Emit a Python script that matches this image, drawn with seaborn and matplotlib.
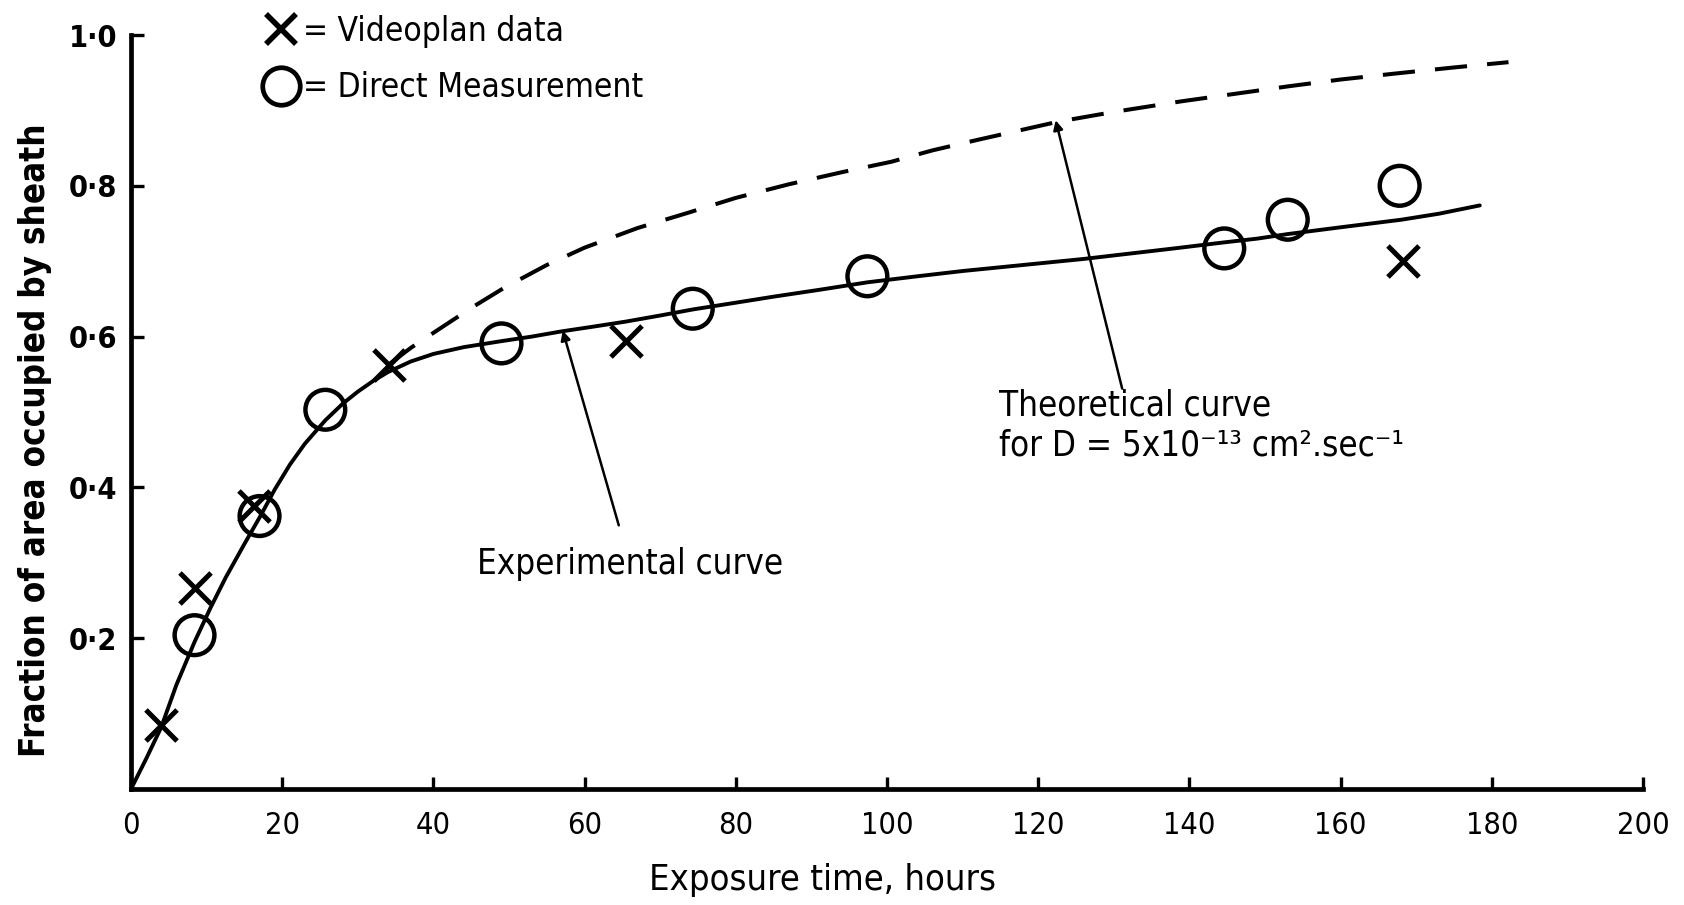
import matplotlib
matplotlib.use("Agg")
import matplotlib.pyplot as plt
import seaborn as sns
import pandas as pd
from matplotlib.lines import Line2D

# Videoplan measurements (crosses)
video_t = [4.0, 8.5, 16.3, 34.1, 65.5, 168.3]
video_f = [0.085, 0.266, 0.375, 0.563, 0.594, 0.700]

# Direct measurements (open circles)
direct_t = [8.4, 17.0, 25.7, 49.0, 74.3, 97.4, 144.6, 153.0, 167.8]
direct_f = [0.204, 0.362, 0.503, 0.591, 0.637, 0.680, 0.717, 0.755, 0.800]

# Experimental (fitted) curve
exp_t = [0, 2, 4, 6, 8.4, 10.5, 12.5, 15, 17, 19, 21, 23, 25.7, 28, 30, 32,
         34, 37, 40, 44, 49, 53, 57, 61, 65.5, 70, 74.3, 80, 85, 91, 97.4,
         104, 110, 115, 120, 126, 132, 138, 144.6, 149, 153, 160, 168,
         173, 178.4]
exp_f = [0, 0.04, 0.082, 0.138, 0.195, 0.24, 0.28, 0.325, 0.36, 0.397,
         0.43, 0.458, 0.489, 0.511, 0.527, 0.541, 0.553, 0.567, 0.577,
         0.586, 0.594, 0.600, 0.607, 0.613, 0.620, 0.628, 0.636, 0.645,
         0.653, 0.662, 0.672, 0.680, 0.687, 0.692, 0.697, 0.703, 0.710,
         0.717, 0.725, 0.730, 0.736, 0.745, 0.755, 0.763, 0.774]

# Theoretical curve for D = 5x10^-13 cm^2/sec
theo_t = [34.1, 37, 40, 45, 49.4, 55, 60, 67, 73.6, 80, 87, 94, 100.6, 106,
          112, 122.6, 130, 138.9, 146, 153.1, 160, 167.3, 175, 182.2]
theo_f = [0.563, 0.585, 0.605, 0.638, 0.665, 0.695, 0.718, 0.744, 0.764,
          0.784, 0.802, 0.818, 0.832, 0.847, 0.861, 0.885, 0.898, 0.912,
          0.922, 0.932, 0.941, 0.949, 0.957, 0.964]

x_ticks = [0, 20, 40, 60, 80, 100, 120, 140, 160, 180, 200]
y_ticks = [0.2, 0.4, 0.6, 0.8, 1.0]
y_tick_labels = ["0·2", "0·4", "0·6", "0·8", "1·0"]

sns.set_theme(style="ticks")
plt.rcParams["font.family"] = ["DejaVu Sans"]
plt.rcParams["font.stretch"] = "condensed"
for key in ("text.color", "axes.labelcolor", "xtick.color", "ytick.color",
            "axes.edgecolor"):
    plt.rcParams[key] = "black"

fig = plt.figure(figsize=(16.84, 9.05), dpi=100)
ax = fig.add_axes([0.0778, 0.1282, 0.8979, 0.8331])

exp_df = pd.DataFrame({"t": exp_t, "f": exp_f})
theo_df = pd.DataFrame({"t": theo_t, "f": theo_f})
sns.lineplot(data=exp_df, x="t", y="f", ax=ax, color="black", lw=2.8,
             sort=False, estimator=None)
sns.lineplot(data=theo_df, x="t", y="f", ax=ax, color="black", lw=2.9,
             sort=False, estimator=None)
ax.lines[-1].set_dashes([8, 5])

sns.scatterplot(x=direct_t, y=direct_f, ax=ax, marker="o", s=820,
                facecolor="none", edgecolor="black", linewidth=3.2, zorder=5)
sns.scatterplot(x=video_t, y=video_f, ax=ax, marker="x", s=500,
                color="black", linewidth=3.6, zorder=6)

ax.set_xlim(0, 200)
ax.set_ylim(0, 1.0)
ax.set_xticks(x_ticks)
ax.set_xticklabels([str(v) for v in x_ticks])
ax.set_yticks(y_ticks)
ax.set_yticklabels(y_tick_labels)

for side in ("top", "right"):
    ax.spines[side].set_visible(False)
for side in ("left", "bottom"):
    ax.spines[side].set_linewidth(3.4)

ax.tick_params(axis="both", direction="in", length=9, width=2.4,
               labelsize=22)
ax.tick_params(axis="x", pad=16)
ax.tick_params(axis="y", pad=10)
for lbl in ax.get_yticklabels():
    lbl.set_fontweight("bold")

ax.set_xlabel("Exposure time, hours", fontsize=26)
ax.xaxis.set_label_coords(0.457, -0.098)
ax.set_ylabel("Fraction of area occupied by sheath", fontsize=25,
              fontweight="bold")
ax.yaxis.set_label_coords(-0.052, 0.463)

# Legend drawn as marker "= label" pairs
handles = [
    Line2D([], [], ls="none", marker="x", ms=22, mew=4.0, color="black"),
    Line2D([], [], ls="none", marker="o", ms=27, mew=3.4, mfc="none",
           mec="black"),
]
fig.legend(handles, ["= Videoplan data", "= Direct Measurement"],
           loc="upper left", bbox_to_anchor=(0.150, 0.998),
           frameon=False, fontsize=24, handlelength=0.9,
           handletextpad=0.2, labelspacing=0.7, borderaxespad=0)

# Curve annotations
ax.annotate("Experimental curve", xy=(57.1, 0.608), xytext=(66, 0.298),
            ha="center", va="center", fontsize=25,
            arrowprops=dict(arrowstyle="-|>", color="black", lw=1.8,
                            mutation_scale=14, shrinkA=14, shrinkB=0))
ax.annotate("", xy=(122.3, 0.887), xytext=(131.1, 0.531),
            arrowprops=dict(arrowstyle="-|>", color="black", lw=1.8,
                            mutation_scale=14, shrinkA=0, shrinkB=0))
ax.text(114.8, 0.508, "Theoretical curve", fontsize=25, ha="left",
        va="center")
ax.text(114.8, 0.456, "for D = 5x10⁻¹³ cm².sec⁻¹", fontsize=25,
        ha="left", va="center")

fig.savefig("out.png", dpi=100, facecolor="white")
